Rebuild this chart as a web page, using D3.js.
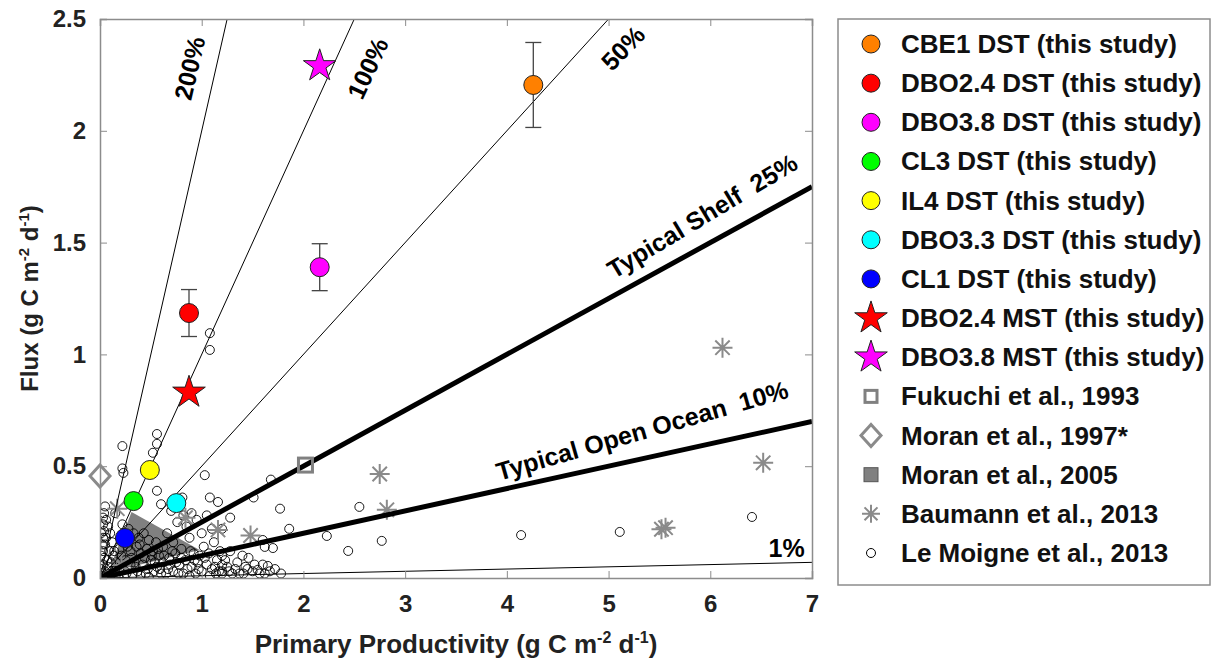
<!DOCTYPE html>
<html>
<head>
<meta charset="utf-8">
<title>Flux vs Primary Productivity</title>
<script src="https://cdn.jsdelivr.net/npm/d3@7"></script>
<style>
  body { margin: 0; background: #fff; }
  svg { font-family: "Liberation Sans", Arial, sans-serif; font-weight: bold; }
</style>
</head>
<body>
<div id="chart"></div>
<script>
// ---- data ----
var xTicks = [0, 1, 2, 3, 4, 5, 6, 7];
var yTicks = [0, 0.5, 1, 1.5, 2, 2.5];

// this study, DST (circles with error bars)
var dstNames = ["CBE1 DST (this study)", "DBO2.4 DST (this study)", "DBO3.8 DST (this study)",
                "CL3 DST (this study)", "IL4 DST (this study)", "DBO3.3 DST (this study)", "CL1 DST (this study)"];
var dstPP   = [4.26, 0.875, 2.16, 0.33, 0.49, 0.75, 0.245];
var dstFlux = [2.205, 1.185, 1.39, 0.344, 0.483, 0.335, 0.179];
var dstErr  = [0.19, 0.105, 0.105, 0, 0, 0, 0];
var dstColors = ["#ff8000", "#ff0000", "#ff00ff", "#00ff00", "#ffff00", "#00ffff", "#0000ff"];

// this study, MST (stars)
var mstNames = ["DBO2.4 MST (this study)", "DBO3.8 MST (this study)"];
var mstPP   = [0.875, 2.16];
var mstFlux = [0.83, 2.29];
var mstColors = ["#ff0000", "#ff00ff"];

// literature
var fukuchi = [[2.02, 0.505]];
var moran1997 = [[0, 0.456]];
var moran2005 = [[0.31, 0.295], [0.98, 0.125], [0.08, 0.025]];
var baumann = [[0.17, 0.31], [0.21, 0.058], [0.84, 0.27], [1.16, 0.215], [1.48, 0.19],
               [2.75, 0.465], [2.82, 0.305], [5.52, 0.218], [5.56, 0.225], [6.12, 1.03], [6.52, 0.515]];
var leMoigne = [
  [1.08, 1.095], [1.08, 1.02], [0.56, 0.644], [0.56, 0.60], [0.52, 0.56], [0.22, 0.59], [0.22, 0.49],
  [0.23, 0.47], [0.56, 0.39], [1.03, 0.46], [0.81, 0.36], [1.08, 0.36], [1.16, 0.34], [1.68, 0.44],
  [1.77, 0.31], [1.86, 0.22], [1.28, 0.27], [1.70, 0.134], [1.6, 0.17], [1.51, 0.36], [1.62, 0.139],
  [1.46, 0.09], [1.2, 0.058], [1.43, 0.05], [1.55, 0.036], [1.65, 0.054], [1.41, 0.02], [1.2, 0.02],
  [2.23, 0.188], [2.44, 0.121], [2.77, 0.166], [2.55, 0.318], [4.14, 0.192], [5.11, 0.206], [6.41, 0.273],
  [0.03, 0.27], [0.03, 0.24], [0.04, 0.21], [0.03, 0.18], [0.05, 0.15], [0.03, 0.12], [0.04, 0.09],
  [0.03, 0.06], [0.05, 0.03], [0.02, 0.01], [0.07, 0.02], [0.08, 0.05], [0.1, 0.01], [0.06, 0.26],
  [0.08, 0.23], [0.1, 0.2], [0.12, 0.16], [0.09, 0.12], [0.13, 0.1], [0.15, 0.04], [0.12, 0.02], [0.18, 0.01],
  [0.22, 0.24], [0.28, 0.22], [0.33, 0.2], [0.38, 0.18], [0.43, 0.2], [0.48, 0.17], [0.36, 0.14],
  [0.3, 0.12], [0.4, 0.11], [0.46, 0.13], [0.52, 0.12], [0.55, 0.16], [0.58, 0.1], [0.62, 0.14],
  [0.25, 0.08], [0.34, 0.07], [0.42, 0.06], [0.5, 0.08], [0.56, 0.05], [0.62, 0.07], [0.68, 0.09],
  [0.2, 0.05], [0.28, 0.04], [0.37, 0.03], [0.45, 0.02], [0.53, 0.03], [0.6, 0.02], [0.67, 0.04],
  [0.72, 0.03], [0.24, 0.01], [0.32, 0.015], [0.4, 0.01], [0.48, 0.005],
  [0.66, 0.2], [0.72, 0.16], [0.76, 0.25], [0.8, 0.13], [0.85, 0.23], [0.88, 0.18], [0.92, 0.11],
  [0.95, 0.26], [1.0, 0.2], [1.02, 0.14], [1.05, 0.28], [1.1, 0.22], [0.78, 0.06], [0.84, 0.08],
  [0.9, 0.05], [0.96, 0.07], [1.0, 0.03], [1.05, 0.06], [1.1, 0.04], [1.15, 0.08], [1.18, 0.12],
  [0.82, 0.02], [0.88, 0.01], [0.94, 0.02], [1.08, 0.01], [1.14, 0.02], [1.2, 0.03], [0.74, 0.11],
  [0.98, 0.1], [1.12, 0.16], [0.7, 0.3], [0.6, 0.33], [0.9, 0.29], [0.82, 0.28], [1.2, 0.22],
  [1.25, 0.05], [1.3, 0.02], [1.35, 0.07], [1.5, 0.03], [1.6, 0.06], [1.62, 0.02], [1.72, 0.04],
  [1.78, 0.02], [1.2, 0.1], [1.28, 0.12], [1.4, 0.1], [0.15, 0.29], [0.05, 0.32],
  [0.16, 0.07], [0.19, 0.13], [0.23, 0.17], [0.27, 0.14], [0.31, 0.09], [0.35, 0.05], [0.39, 0.15],
  [0.44, 0.09], [0.47, 0.04], [0.51, 0.1], [0.54, 0.07], [0.57, 0.13], [0.59, 0.04], [0.63, 0.1],
  [0.65, 0.02], [0.69, 0.06], [0.71, 0.12], [0.75, 0.07], [0.77, 0.02], [0.8, 0.09], [0.86, 0.04],
  [0.89, 0.12], [0.93, 0.08], [0.97, 0.04], [1.03, 0.09], [1.07, 0.11], [1.13, 0.05], [1.17, 0.03],
  [1.23, 0.08], [1.27, 0.03], [1.33, 0.04], [1.37, 0.02], [1.45, 0.04], [1.52, 0.06], [1.57, 0.02],
  [1.67, 0.03], [0.11, 0.07], [0.14, 0.12], [0.17, 0.03], [0.21, 0.1], [0.26, 0.02], [0.3, 0.06],
  [0.01, 0.04], [0.02, 0.15], [0.01, 0.2], [0.07, 0.08], [0.06, 0.18], [0.01, 0.1], [0.04, 0.29]
];

// export ratio lines (flux / PP)
var ratios = [2, 1, 0.5, 0.25, 0.1, 0.01];
var ratioLabels = ["200%", "100%", "50%", "Typical Shelf  25%", "Typical Open Ocean  10%", "1%"];

var legendNames = dstNames.concat(mstNames, ["Fukuchi et al., 1993", "Moran et al., 1997*",
  "Moran et al., 2005", "Baumann et al., 2013", "Le Moigne et al., 2013"]);

// ---- layout ----
var W = 1214, H = 669;
var margin = {left: 100, top: 19, right: 402, bottom: 91};
var pw = W - margin.left - margin.right, ph = H - margin.top - margin.bottom;
var axisGray = "#8c8c8c";

var svg = d3.select("#chart").append("svg").attr("width", W).attr("height", H);
var x = d3.scaleLinear().domain([0, 7]).range([0, pw]);
var y = d3.scaleLinear().domain([0, 2.5]).range([ph, 0]);

var g = svg.append("g").attr("transform", "translate(" + margin.left + "," + margin.top + ")");

g.append("clipPath").attr("id", "clip")
  .append("rect").attr("width", pw).attr("height", ph);

var plot = g.append("g").attr("clip-path", "url(#clip)");

// Moran 2005 region
plot.append("path")
  .datum(moran2005)
  .attr("d", d3.line().x(function(d) { return x(d[0]); }).y(function(d) { return y(d[1]); }).curve(d3.curveLinearClosed))
  .attr("fill", "#808080");

// Le Moigne open circles
plot.selectAll(".lm").data(leMoigne).enter().append("circle")
  .attr("cx", function(d) { return x(d[0]); })
  .attr("cy", function(d) { return y(d[1]); })
  .attr("r", 4.5)
  .attr("fill", "none")
  .attr("stroke", "#000")
  .attr("stroke-width", 0.9);

// asterisk marker
function asterisk(sel, r) {
  var a = r * 0.72;
  sel.append("path")
    .attr("d", "M0," + (-r) + "V" + r + "M" + (-r) + ",0H" + r +
               "M" + (-a) + "," + (-a) + "L" + a + "," + a + "M" + (-a) + "," + a + "L" + a + "," + (-a))
    .attr("stroke", "#8a8a8a").attr("stroke-width", 2).attr("fill", "none");
}
plot.selectAll(".bm").data(baumann).enter().append("g")
  .attr("transform", function(d) { return "translate(" + x(d[0]) + "," + y(d[1]) + ")"; })
  .call(asterisk, 10);

// ratio lines
plot.selectAll(".ratio").data(ratios).enter().append("line")
  .attr("x1", x(0)).attr("y1", y(0))
  .attr("x2", function(d) { return x(Math.min(7, 2.5 / d)); })
  .attr("y2", function(d) { return y(Math.min(7, 2.5 / d) * d); })
  .attr("stroke", "#000")
  .attr("stroke-width", function(d) { return (d == 0.25 || d == 0.1) ? 5 : 1; });

// Fukuchi square
plot.selectAll(".fk").data(fukuchi).enter().append("rect")
  .attr("x", function(d) { return x(d[0]) - 7; })
  .attr("y", function(d) { return y(d[1]) - 7; })
  .attr("width", 14).attr("height", 14)
  .attr("fill", "none").attr("stroke", "#808080").attr("stroke-width", 3);

// Moran 1997 diamond (drawn unclipped since it sits on the axis)
var diamond = "M0,-11L10,0L0,11L-10,0Z";
g.selectAll(".mr").data(moran1997).enter().append("path")
  .attr("transform", function(d) { return "translate(" + x(d[0]) + "," + y(d[1]) + ")"; })
  .attr("d", diamond)
  .attr("fill", "none").attr("stroke", "#8a8a8a").attr("stroke-width", 3);

// error bars
var dst = dstPP.map(function(v, i) { return {pp: v, flux: dstFlux[i], err: dstErr[i], color: dstColors[i]}; });
var eb = g.selectAll(".eb").data(dst.filter(function(d) { return d.err > 0; })).enter().append("g")
  .attr("stroke", "#444").attr("stroke-width", 1.3);
eb.append("line")
  .attr("x1", function(d) { return x(d.pp); }).attr("x2", function(d) { return x(d.pp); })
  .attr("y1", function(d) { return y(d.flux - d.err); }).attr("y2", function(d) { return y(d.flux + d.err); });
eb.append("line")
  .attr("x1", function(d) { return x(d.pp) - 8; }).attr("x2", function(d) { return x(d.pp) + 8; })
  .attr("y1", function(d) { return y(d.flux - d.err); }).attr("y2", function(d) { return y(d.flux - d.err); });
eb.append("line")
  .attr("x1", function(d) { return x(d.pp) - 8; }).attr("x2", function(d) { return x(d.pp) + 8; })
  .attr("y1", function(d) { return y(d.flux + d.err); }).attr("y2", function(d) { return y(d.flux + d.err); });

// DST circles
g.selectAll(".dst").data(dst).enter().append("circle")
  .attr("cx", function(d) { return x(d.pp); })
  .attr("cy", function(d) { return y(d.flux); })
  .attr("r", 9.5)
  .attr("fill", function(d) { return d.color; })
  .attr("stroke", "#222").attr("stroke-width", 1);

// MST stars
var star = d3.symbol().type(d3.symbolStar).size(330);
g.selectAll(".mst").data(mstPP).enter().append("path")
  .attr("transform", function(d, i) { return "translate(" + x(d) + "," + y(mstFlux[i]) + ")"; })
  .attr("d", star)
  .attr("fill", function(d, i) { return mstColors[i]; })
  .attr("stroke", "#222").attr("stroke-width", 1);

// ratio line labels
var labelPos = [
  {x: 0.88, y: 2.28, rot: -77},
  {x: 2.63, y: 2.28, rot: -65},
  {x: 5.14, y: 2.37, rot: -46},
  {x: 5.92, y: 1.62, rot: -31},
  {x: 5.33, y: 0.66, rot: -16},
  {x: 6.75, y: 0.135, rot: 0}
];
g.selectAll(".rlab").data(ratioLabels).enter().append("text")
  .attr("transform", function(d, i) {
    var p = labelPos[i];
    return "translate(" + x(p.x) + "," + y(p.y) + ") rotate(" + p.rot + ")";
  })
  .attr("text-anchor", "middle")
  .attr("dominant-baseline", "central")
  .attr("font-size", 25)
  .attr("fill", "#000")
  .style("white-space", "pre")
  .text(function(d) { return d; });

// axes frame and ticks
var xAxis = g.append("g").attr("transform", "translate(0," + ph + ")")
  .call(d3.axisBottom(x).tickValues(xTicks).tickSize(-7).tickPadding(17).tickFormat(d3.format("d")));
var xTop = g.append("g")
  .call(d3.axisTop(x).tickValues(xTicks).tickSize(-7).tickFormat(""));
var yAxis = g.append("g")
  .call(d3.axisLeft(y).tickValues(yTicks).tickSize(-7).tickPadding(14).tickFormat(function(d) { return d; }));
var yRight = g.append("g").attr("transform", "translate(" + pw + ",0)")
  .call(d3.axisRight(y).tickValues(yTicks).tickSize(-7).tickFormat(""));
[xAxis, xTop, yAxis, yRight].forEach(function(a) {
  a.select(".domain").attr("stroke", axisGray).attr("stroke-width", 1.5);
  a.selectAll(".tick line").attr("stroke", axisGray);
  a.selectAll("text").attr("font-size", 24).attr("font-weight", "bold")
    .attr("font-family", "'Liberation Sans', Arial, sans-serif").attr("fill", "#222");
});

// axis titles
var xt = svg.append("text")
  .attr("x", margin.left + pw / 2).attr("y", 653)
  .attr("text-anchor", "middle").attr("font-size", 26).attr("fill", "#222");
xt.append("tspan").text("Primary Productivity (g C m");
xt.append("tspan").attr("dy", -10).attr("font-size", 16).text("-2");
xt.append("tspan").attr("dy", 10).text(" d");
xt.append("tspan").attr("dy", -10).attr("font-size", 16).text("-1");
xt.append("tspan").attr("dy", 10).text(")");

var yt = svg.append("text")
  .attr("transform", "translate(38," + (margin.top + ph / 2) + ") rotate(-90)")
  .attr("text-anchor", "middle").attr("font-size", 24).attr("fill", "#222");
yt.append("tspan").text("Flux (g C m");
yt.append("tspan").attr("dy", -9).attr("font-size", 15).text("-2");
yt.append("tspan").attr("dy", 9).text(" d");
yt.append("tspan").attr("dy", -9).attr("font-size", 15).text("-1");
yt.append("tspan").attr("dy", 9).text(")");

// legend
var lg = svg.append("g");
lg.append("rect").attr("x", 838).attr("y", 19).attr("width", 372).attr("height", 566)
  .attr("fill", "#fff").attr("stroke", axisGray).attr("stroke-width", 1.5);
var rowY = d3.scalePoint().domain(d3.range(legendNames.length)).range([44, 553]);
var sx = 871;
legendNames.forEach(function(name, i) {
  var cy = rowY(i);
  var s = lg.append("g").attr("transform", "translate(" + sx + "," + cy + ")");
  if (i < dstNames.length) {
    s.append("circle").attr("r", 9).attr("fill", dstColors[i]).attr("stroke", "#222");
  } else if (i < dstNames.length + mstNames.length) {
    s.append("path").attr("d", star).attr("fill", mstColors[i - dstNames.length]).attr("stroke", "#222");
  } else {
    var k = i - dstNames.length - mstNames.length;
    if (k == 0) s.append("rect").attr("x", -6).attr("y", -6).attr("width", 12).attr("height", 12)
      .attr("fill", "none").attr("stroke", "#808080").attr("stroke-width", 3);
    if (k == 1) s.append("path").attr("d", diamond).attr("fill", "none").attr("stroke", "#8a8a8a").attr("stroke-width", 3);
    if (k == 2) s.append("rect").attr("x", -7).attr("y", -7).attr("width", 14).attr("height", 14)
      .attr("fill", "#808080").attr("stroke", "#555");
    if (k == 3) asterisk(s, 9);
    if (k == 4) s.append("circle").attr("r", 4.5).attr("fill", "none").attr("stroke", "#000");
  }
  lg.append("text").attr("x", 901).attr("y", cy).attr("dominant-baseline", "central")
    .attr("font-size", 26).attr("fill", "#111").text(name);
});
</script>
</body>
</html>
